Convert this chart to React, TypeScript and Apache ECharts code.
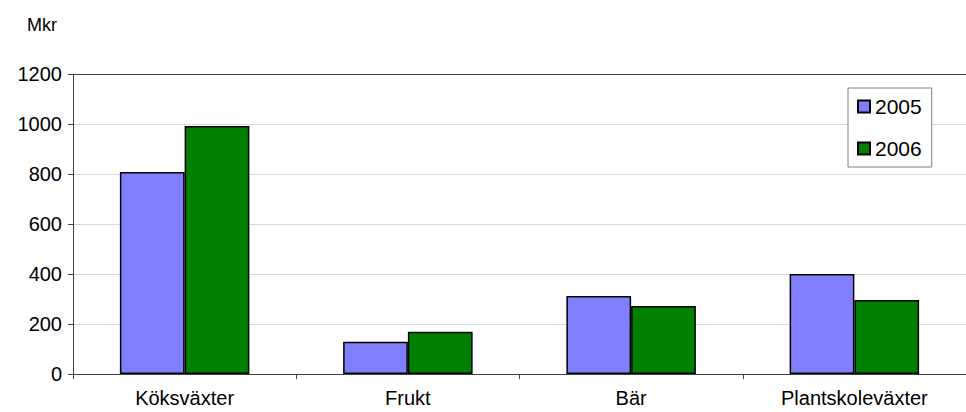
import React, { useEffect, useRef } from "react";
import * as echarts from "echarts";

const categories = ["Köksväxter", "Frukt", "Bär", "Plantskoleväxter"];
const values2005 = [808, 129, 312, 400];
const values2006 = [992, 169, 272, 296];
const seriesNames = ["2005", "2006"];
const unitLabel = "Mkr";

export default function App() {
  const ref = useRef<HTMLDivElement>(null);
  useEffect(() => {
    if (!ref.current) return;
    const chart = echarts.init(ref.current, null, { renderer: "svg" });
    const font = "'Liberation Sans', Arial, sans-serif";
    chart.setOption({
      animation: false,
      backgroundColor: "#ffffff",
      textStyle: { fontFamily: font },
      grid: { left: 73, top: 74, bottom: 38, right: -13, containLabel: false },
      graphic: [
        {
          type: "text",
          left: 27,
          top: 16,
          style: { text: unitLabel, font: `18px ${font}`, fill: "#000" },
        },
      ],
      legend: {
        orient: "vertical",
        left: 848,
        top: 88,
        padding: [8, 10, 8, 9],
        itemGap: 21,
        itemWidth: 12,
        itemHeight: 12,
        borderColor: "#808080",
        borderWidth: 1,
        backgroundColor: "#ffffff",
        textStyle: { fontSize: 21, color: "#000", fontFamily: font },
        data: seriesNames.map((n) => ({ name: n, icon: "rect" })),
      },
      xAxis: {
        type: "category",
        data: categories,
        axisLine: { lineStyle: { color: "#404040", width: 1 } },
        axisTick: { show: true, length: 5, lineStyle: { color: "#404040" } },
        axisLabel: { fontSize: 20, color: "#000", margin: 14, fontFamily: font },
        splitLine: { show: false },
      },
      yAxis: {
        type: "value",
        min: 0,
        max: 1200,
        interval: 200,
        axisLine: { show: true, lineStyle: { color: "#404040", width: 1 } },
        axisTick: { show: true, length: 5, lineStyle: { color: "#404040" } },
        axisLabel: {
          fontSize: 20,
          color: "#000",
          margin: 11,
          fontFamily: font,
          formatter: (v: number) => String(v),
        },
        splitLine: {
          show: true,
          lineStyle: {
            color: ["#d9d9d9", "#d9d9d9", "#d9d9d9", "#d9d9d9", "#d9d9d9", "#d9d9d9", "#404040"],
            width: 1,
          },
        },
      },
      series: [
        {
          name: seriesNames[0],
          type: "bar",
          data: values2005,
          barGap: "0%",
          barCategoryGap: "42%",
          itemStyle: { color: "#8080ff", borderColor: "#000", borderWidth: 1.5 },
        },
        {
          name: seriesNames[1],
          type: "bar",
          data: values2006,
          barGap: "0%",
          barCategoryGap: "42%",
          itemStyle: { color: "#008000", borderColor: "#000", borderWidth: 1.5 },
        },
      ],
    });
    return () => chart.dispose();
  }, []);
  return <div ref={ref} style={{ width: 966, height: 412, position: "absolute", left: 0, top: 0 }} />;
}
